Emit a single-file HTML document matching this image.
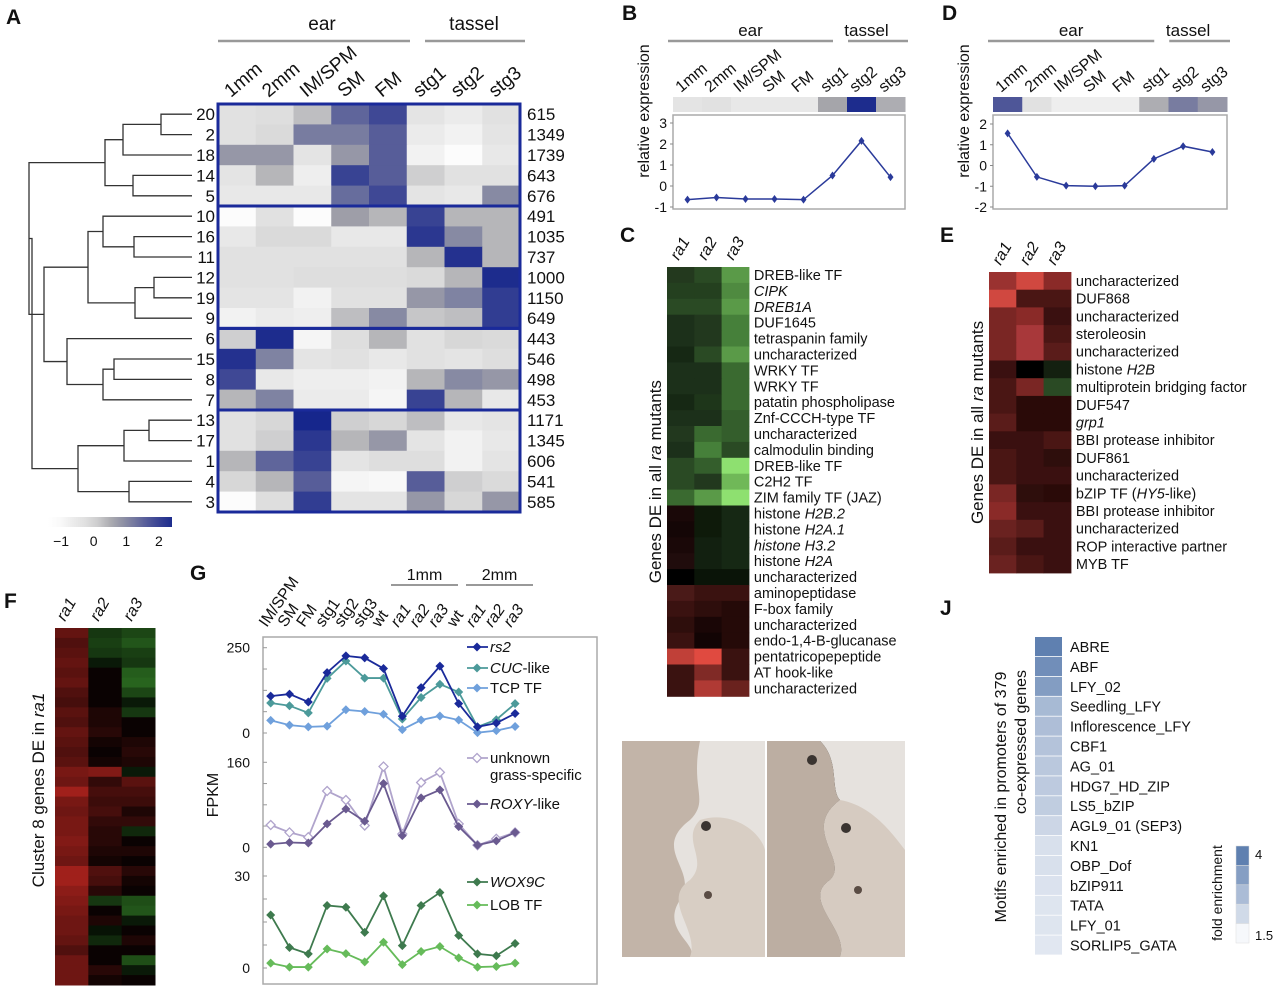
<!DOCTYPE html>
<html><head><meta charset="utf-8">
<style>
body{margin:0;background:#fff;}
svg{display:block;font-family:"Liberation Sans","DejaVu Sans",sans-serif;}
text{fill:#111;}
.pl{font-size:21px;font-weight:bold;}
</style></head>
<body>
<svg id="fig" width="1280" height="991" viewBox="0 0 1280 991" xmlns="http://www.w3.org/2000/svg">
<rect width="1280" height="991" fill="#fff"/>
<text class="pl" x="6" y="24">A</text>
<text class="pl" x="622" y="20">B</text>
<text class="pl" x="620" y="242">C</text>
<text class="pl" x="942" y="20">D</text>
<text class="pl" x="940" y="242">E</text>
<text class="pl" x="4" y="608">F</text>
<text class="pl" x="190" y="580">G</text>
<text class="pl" x="630" y="760">H</text>
<text class="pl" x="775" y="760">I</text>
<text class="pl" x="940" y="615">J</text>

<g font-size="19">
<text x="322" y="30" text-anchor="middle">ear</text>
<line x1="218" y1="41" x2="410" y2="41" stroke="#999" stroke-width="2.5"/>
<text x="474" y="30" text-anchor="middle">tassel</text>
<line x1="425" y1="41" x2="525" y2="41" stroke="#999" stroke-width="2.5"/>
</g>
<g id="gA"></g>
<g id="gB"></g>
<g id="gD"></g>
<g id="gC"></g>
<g id="gE"></g>
<g id="gF"></g>
<g id="gG"></g>
<g id="gJ"></g>

<g>
<rect x="622" y="741" width="143" height="216" fill="#e6e2de"/>
<path d="M622,741 L700,741 C690,790 710,800 690,820 C650,850 700,870 680,900 C660,930 700,945 690,957 L622,957 Z" fill="#c2b4a8"/>
<path d="M700,820 C730,810 760,830 765,850 L765,957 L690,957 C700,930 660,900 690,880 C710,860 680,840 700,820Z" fill="#d8cec4"/>
<circle cx="706" cy="826" r="5" fill="#3a3430"/>
<circle cx="708" cy="895" r="4" fill="#5a4c44"/>
</g>
<g>
<rect x="767" y="741" width="138" height="216" fill="#e6e2de"/>
<path d="M767,741 L820,741 C840,760 830,790 840,800 C800,830 850,860 830,880 C800,900 850,930 840,957 L767,957 Z" fill="#bcae a2"/>
<path d="M767,741 L820,741 C840,760 830,790 840,800 C800,830 850,860 830,880 C800,900 850,930 840,957 L767,957 Z" fill="#bcaea2"/>
<path d="M840,800 C870,805 890,830 905,850 L905,957 L840,957 C850,930 800,900 830,880 C850,860 800,830 840,800Z" fill="#d6cbc1"/>
<circle cx="812" cy="760" r="5" fill="#3a3430"/>
<circle cx="846" cy="828" r="5" fill="#3a3430"/>
<circle cx="858" cy="890" r="4" fill="#5a4c44"/>
</g>
</svg>
<script>
const NS='http://www.w3.org/2000/svg';
function mk(tag,attrs,parent){const e=document.createElementNS(NS,tag);for(const k in attrs)e.setAttribute(k,attrs[k]);parent.appendChild(e);return e;}
function txt(s,attrs,parent){const e=mk('text',attrs,parent);e.textContent=s;return e;}

const aCols=['1mm','2mm','IM/SPM','SM','FM','stg1','stg2','stg3'];
const aRowIds=['20','2','18','14','5','10','16','11','12','19','9','6','15','8','7','13','17','1','4','3'];
const aCounts=['615','1349','1739','643','676','491','1035','737','1000','1150','649','443','546','498','453','1171','1345','606','541','585'];
const aValues=[
[-0.3,-0.2,0.3,1.5,1.9,-0.4,-0.6,-0.3],
[-0.3,-0.1,1.2,1.2,1.6,-0.6,-0.8,-0.4],
[0.8,0.8,-0.4,0.8,1.6,-0.8,-1.1,-0.5],
[-0.4,0.4,-0.7,2.0,1.6,0.1,-0.3,-0.3],
[-0.5,-0.5,-0.5,1.4,1.9,-0.4,-0.5,1.0],
[-1.1,-0.3,-1.1,0.7,0.4,2.0,0.4,0.4],
[-0.5,-0.1,-0.1,-0.5,-0.5,2.2,1.0,0.4],
[-0.3,-0.3,-0.3,-0.3,-0.3,0.4,2.3,0.4],
[-0.3,-0.3,-0.2,-0.2,-0.2,-0.1,0.4,2.4],
[-0.4,-0.4,-0.8,-0.3,-0.3,0.8,1.1,2.1],
[-0.8,-0.6,-0.7,0.3,1.0,0.2,0.3,2.1],
[0.1,2.4,-0.9,-0.2,0.4,-0.3,0.0,-0.1],
[2.3,1.1,-0.4,-0.3,-0.5,-0.3,-0.4,-0.2],
[1.9,-0.5,-0.7,-0.7,-0.8,0.4,1.0,0.8],
[0.4,1.1,-0.6,-0.6,-0.9,2.0,0.4,-0.5],
[-0.3,0.0,2.5,0.1,0.0,0.3,-0.5,-0.4],
[-0.3,0.1,2.2,0.4,0.8,-0.4,-0.8,-0.5],
[0.4,1.5,2.0,-0.4,-0.2,-0.2,-0.8,-0.4],
[0.0,0.4,1.6,-0.9,-1.0,1.6,0.1,-0.1],
[-1.1,-0.2,2.1,-0.4,-0.4,0.8,0.0,0.8]];
const aGroupBreaks=[5,11,15];
const aColorTicks=[-1,0,1,2];
const aMerges=[[0,1,161],[20,2,123],[3,4,133],[21,22,105],[6,7,134],[5,24,103],[8,9,154],[26,10,135],[25,27,88],[12,13,114],[29,14,103],[11,30,67],[28,31,44],[23,32,29],[15,16,149],[34,17,124],[18,19,129],[35,36,78],[33,37,32]];

function grayBlue(v){
  const stops=[[-1.2,[255,255,255]],[0,[215,215,215]],[0.6,[165,165,170]],[1.2,[120,124,160]],[1.8,[70,78,150]],[2.5,[22,38,140]]];
  if(v<=stops[0][0])return 'rgb(255,255,255)';
  for(let i=1;i<stops.length;i++){if(v<=stops[i][0]){const a=stops[i-1],b=stops[i];const t=(v-a[0])/(b[0]-a[0]);return 'rgb('+a[1].map((c,j)=>Math.round(c+(b[1][j]-c)*t)).join(',')+')';}}
  return 'rgb(22,38,140)';
}
(function(){
  const g=document.getElementById('gA');
  const x0=218,x1=520,y0=104,y1=512;
  const cw=(x1-x0)/aCols.length, rh=(y1-y0)/aRowIds.length;
  const xS=i=>x0+i*cw, yS=i=>y0+i*rh;
  aValues.forEach((row,r)=>row.forEach((v,c)=>{
    const e=mk('rect',{x:xS(c),y:yS(r),width:cw+0.5,height:rh+0.5,fill:grayBlue(v)},g);
    
    
  }));
  const bounds=[0].concat(aGroupBreaks,[aRowIds.length]);
  for(let k=0;k<bounds.length-1;k++){
    const e=mk('rect',{x:x0,y:yS(bounds[k]),width:x1-x0,height:yS(bounds[k+1])-yS(bounds[k]),fill:'none',stroke:'#1a2a9a','stroke-width':3},g);
    
    
  }
  aCols.forEach((c,i)=>{
    const cx=xS(i)+cw/2-6, cy=98;
    const e=txt(c,{x:cx,y:cy,'font-size':19,transform:'rotate(-40 '+cx+' '+cy+')'},g);
    
    
  });
  aRowIds.forEach((id,r)=>{
    const e=txt(id,{x:215,y:yS(r)+rh/2+6,'font-size':17,'text-anchor':'end'},g);
    
    
    const f=txt(aCounts[r],{x:527,y:yS(r)+rh/2+6,'font-size':17},g);
    
    
  });
  const nodes=aRowIds.map((_,r)=>({x:192,y:yS(r)+rh/2}));
  aMerges.forEach(m=>{
    const a=nodes[m[0]],b=nodes[m[1]],hx=m[2];
    const p=mk('path',{d:'M'+a.x+','+a.y+' H'+hx+' V'+b.y+' H'+b.x,fill:'none',stroke:'#333','stroke-width':1.3},g);
    
    
    nodes.push({x:hx,y:(a.y+b.y)/2});
  });
  const defs=mk('defs',{},g);
  const lg=mk('linearGradient',{id:'cbA',x1:0,x2:1,y1:0,y2:0},defs);
  for(let i=0;i<=10;i++){const v=-1.4+i*0.38;mk('stop',{offset:(i*10)+'%','stop-color':grayBlue(v)},lg);}
  const cb=mk('rect',{x:48,y:517,width:124,height:10,fill:'url(#cbA)'},g);
  
  
  const cbx=v=>48+(v+1.4)/3.8*124;
  aColorTicks.forEach(t=>{
    const e=txt(t<0?'\u22121':String(t),{x:cbx(t),y:546,'font-size':14,'text-anchor':'middle'},g);
    
    
  });
})();

const bValues=[-0.65,-0.55,-0.62,-0.62,-0.65,0.5,2.15,0.42];
const bStrip=[-0.4,-0.3,-0.5,-0.5,-0.5,0.6,2.4,0.5];
const bTicks=[3,2,1,0,-1];
const dValues=[1.55,-0.55,-0.97,-1.0,-0.97,0.32,0.93,0.65];
const dStrip=[1.7,-0.3,-0.7,-0.7,-0.7,0.5,1.2,0.8];
const dTicks=[2,1,0,-1,-2];
function profile(gid,x0,x1,vals,strip,ticks,yTop,yBot){
  const g=document.getElementById(gid);
  const cw=(x1-x0)/vals.length;
  const xS=i=>x0+cw*(i+0.5);
  const tmax=ticks[0],tmin=ticks[ticks.length-1];
  const yS=v=>yBot+(v-tmin)/(tmax-tmin)*(yTop-yBot);
  let e=txt('ear',{x:x0+cw*2.5+5,y:36,'font-size':17,'text-anchor':'middle'},g);
  
  
  mk('line',{x1:x0-5,y1:41,x2:x0+cw*5+15,y2:41,stroke:'#999','stroke-width':2.5},g);
  e=txt('tassel',{x:x0+cw*6.5+5,y:36,'font-size':17,'text-anchor':'middle'},g);
  
  
  mk('line',{x1:x0+cw*5+30,y1:41,x2:x1+3,y2:41,stroke:'#999','stroke-width':2.5},g);
  aCols.forEach((c,i)=>{
    const cx=x0+cw*i+8, cy=93;
    const t=txt(c,{x:cx,y:cy,'font-size':16,transform:'rotate(-40 '+cx+' '+cy+')'},g);
    
    
  });
  strip.forEach((v,i)=>{
    const r=mk('rect',{x:x0+cw*i,y:97,width:cw+0.5,height:15,fill:grayBlue(v)},g);
    
    
  });
  const box=mk('rect',{x:x0,y:115,width:x1-x0,height:yBot+2-115,fill:'none',stroke:'#aaa','stroke-width':1.5},g);
  
  
  ticks.forEach(t=>{
    const l=txt(t<0?'-'+(-t):String(t),{x:x0-6,y:yS(t)+5,'font-size':14,'text-anchor':'end'},g);
    
    
    mk('line',{x1:x0-3,y1:yS(t),x2:x0,y2:yS(t),stroke:'#888'},g);
  });
  const yc=(115+yBot)/2-50;
  const yt=txt('relative expression',{x:x0-24,y:yc,'font-size':16,'text-anchor':'middle',transform:'rotate(-90 '+(x0-24)+' '+yc+')'},g);
  
  
  const pts=vals.map((v,i)=>xS(i)+','+yS(v)).join(' ');
  const pl=mk('polyline',{points:pts,fill:'none',stroke:'#2a3a9a','stroke-width':1.5},g);
  
  
  vals.forEach((v,i)=>{
    const x=xS(i),y=yS(v);
    const p=mk('path',{d:'M'+x+','+(y-4)+' L'+(x+3)+','+y+' L'+x+','+(y+4)+' L'+(x-3)+','+y+'Z',fill:'#2a3a9a'},g);
    
    
  });
}
profile('gB',673,905,bValues,bStrip,bTicks,123,207);
profile('gD',993,1227,dValues,dStrip,dTicks,124,207);

const cGenes=['DREB-like TF','CIPK','DREB1A','DUF1645','tetraspanin family','uncharacterized','WRKY TF','WRKY TF','patatin phospholipase','Znf-CCCH-type TF','uncharacterized','calmodulin binding','DREB-like TF','C2H2 TF','ZIM family TF (JAZ)','histone H2B.2','histone H2A.1','histone H3.2','histone H2A','uncharacterized','aminopeptidase','F-box family','uncharacterized','endo-1,4-B-glucanase','pentatricopepeptide','AT hook-like','uncharacterized'];
const cColors=[
['#23391e','#2a4a24','#5a9a48'],['#24401f','#24401f','#4f8a40'],['#2a4a24','#2a4a24','#5a9a48'],['#1c301a','#22381e','#46803a'],['#1c301a','#22381e','#46803a'],['#162814','#2a4a24','#5a9a48'],['#1c301a','#1c301a','#3a6a30'],['#1c301a','#1c301a','#3a6a30'],['#162814','#1e361a','#3a6a30'],['#1c301a','#1c301a','#345e2c'],['#22381e','#3a6a30','#345e2c'],['#1c301a','#46803a','#2a4a24'],['#2a4a24','#345e2c','#8ee070'],['#2a4a24','#22381e','#70b858'],['#3a6a30','#5a9a48','#8ee070'],
['#1a0808','#0e1a0a','#162814'],['#140606','#0e1a0a','#162814'],['#1a0808','#122010','#162814'],['#200c0c','#122010','#162814'],['#000000','#0a1408','#0a1408'],['#4a1a18','#3a1210','#3a1210'],['#3a1210','#2e0e0c','#250a08'],['#2e0e0c','#1a0606','#250a08'],['#3a1210','#120404','#250a08'],['#c04038','#e04a40','#3a1210'],['#3a1210','#802a26','#3a1210'],['#3a1210','#b03a34','#6a221e']];
const eGenes=['uncharacterized','DUF868','uncharacterized','steroleosin','uncharacterized','histone H2B','multiprotein bridging factor','DUF547','grp1','BBI protease inhibitor','DUF861','uncharacterized','bZIP TF (HY5-like)','BBI protease inhibitor','uncharacterized','ROP interactive partner','MYB TF'];
const eColors=[
['#9a3230','#d04840','#8a2a28'],['#d04840','#4a1614','#4a1614'],['#7a2624','#8a2a28','#3a1010'],['#7a2624','#a8383a','#4a1614'],['#7a2624','#a8383a','#5a1c1a'],['#3a1010','#000000','#142010'],['#4a1614','#7a2624','#2a4a24'],['#4a1614','#2a0a08','#2a0a08'],['#5a1c1a','#2a0a08','#2a0a08'],['#3a1010','#3a1010','#4a1614'],['#4a1614','#3a1010','#2e0e0c'],['#4a1614','#3a1010','#3a1010'],['#7a2624','#2e0e0c','#2a0a08'],['#8a2a28','#3a1010','#3a1010'],['#6a2220','#5a1c1a','#3a1010'],['#5a1c1a','#3a1010','#3a1010'],['#6a2220','#4a1614','#3a1010']];
const mutants=['ra1','ra2','ra3'];
const italicPart={'CIPK':1,'DREB1A':1,'histone H3.2':1,'grp1':1};
function geneHeat(gid,x0,y0,cw,rh,genes,colors,titleX,fs){
  const g=document.getElementById(gid);
  colors.forEach((row,r)=>row.forEach((c,k)=>{
    const e=mk('rect',{x:x0+k*cw,y:y0+r*rh,width:cw+0.5,height:rh+0.5,fill:c},g);
    
    
  }));
  mutants.forEach((m,k)=>{
    const cx=x0+k*cw+cw/2-2, cy=y0-6;
    const t=txt(m,{x:cx,y:cy,'font-size':16,'font-style':'italic',transform:'rotate(-60 '+cx+' '+cy+')'},g);
    
    
  });
  genes.forEach((s,r)=>{
    const t=mk('text',{x:x0+3*cw+5,y:y0+r*rh+rh/2+5,'font-size':fs},g);
    
    
    const m=s.match(/^(histone |bZIP TF \()(H[\w.]+)(.*)$/);
    if(italicPart[s]){t.setAttribute('font-style','italic');t.textContent=s;}
    else if(m){t.textContent=m[1];const ts=mk('tspan',{'font-style':'italic'},t);ts.textContent=m[2];if(m[3]){const t2=mk('tspan',{},t);t2.textContent=m[3];}}
    else t.textContent=s;
  });
  const yc=y0+genes.length*rh/2;
  const tt=mk('text',{x:titleX,y:yc,'font-size':17,'text-anchor':'middle',transform:'rotate(-90 '+titleX+' '+yc+')'},g);
  
  
  tt.appendChild(document.createTextNode('Genes DE in all '));
  const it=mk('tspan',{'font-style':'italic'},tt);it.textContent='ra';
  tt.appendChild(document.createTextNode(' mutants'));
}
geneHeat('gC',667,267,27.3,15.9,cGenes,cColors,661,14.5);
geneHeat('gE',989,272,27.3,17.7,eGenes,eColors,983,14.5);

const fValues=[[.45,-.3,-.4],[.35,-.35,-.5],[.4,-.3,-.35],[.45,-.1,-.3],[.4,0,-.55],[.45,0,-.6],[.35,0,-.4],[.3,0,-.1],[.4,.1,-.3],[.35,.1,0],[.45,.15,0],[.4,.05,.1],[.35,0,.15],[.4,.05,.1],[.55,.6,-.1],[.5,.2,.4],[.75,.3,.3],[.55,.25,.25],[.5,.3,.1],[.55,.2,.2],[.55,.15,-.2],[.6,.15,0],[.55,.1,.1],[.5,.05,0],[.75,.35,.15],[.75,.3,.05],[.65,.15,0],[.6,-.3,-.45],[.55,0,-.5],[.5,.1,-.1],[.5,-.05,0],[.45,-.2,.1],[.35,0,0],[.5,0,-.45],[.5,.15,-.1],[.5,.05,0]];
function rg(v){if(v>=0){const r=Math.round(10+200*v);return 'rgb('+r+','+Math.round(r*0.2)+','+Math.round(r*0.17)+')';}const gg=Math.round(10+150*(-v));return 'rgb('+Math.round(gg*0.4)+','+gg+','+Math.round(gg*0.3)+')';}
(function(){
  const g=document.getElementById('gF');
  const x0=55,y0=628,w=100,h=357,cw=w/3,rh=h/fValues.length;
  fValues.forEach((row,r)=>row.forEach((v,k)=>{
    const e=mk('rect',{x:x0+k*cw,y:y0+r*rh,width:cw+0.5,height:rh+0.5,fill:rg(v)},g);
    
    
  }));
  mutants.forEach((m,k)=>{
    const cx=x0+k*cw+10, cy=622;
    const t=txt(m,{x:cx,y:cy,'font-size':16,'font-style':'italic',transform:'rotate(-60 '+cx+' '+cy+')'},g);
    
    
  });
  const tx=44,ty=790;
  const tt=mk('text',{x:tx,y:ty,'font-size':17,'text-anchor':'middle',transform:'rotate(-90 '+tx+' '+ty+')'},g);
  
  
  tt.appendChild(document.createTextNode('Cluster 8 genes DE in '));
  const it=mk('tspan',{'font-style':'italic'},tt);it.textContent='ra1';
})();

const gSamples=['IM/SPM','SM','FM','stg1','stg2','stg3','wt','ra1','ra2','ra3','wt','ra1','ra2','ra3'];
const rs2=[108,114,91,177,226,220,189,49,133,196,86,18,29,57];
const cucLike=[88,80,59,160,211,161,161,41,104,143,120,18,39,86];
const tcpTF=[37,23,18,20,68,63,55,10,38,50,38,1,7,19];
const unknownGrass=[42,28,19,106,89,41,152,25,122,141,44,4,16,28];
const roxyLike=[6,9,8,44,72,49,120,22,93,108,39,4,12,28];
const wox9c=[17.3,6.7,4.6,20.4,19.8,11.6,23.5,7.3,20.4,24.6,10.6,4.6,4.0,8.0];
const lobTF=[1.6,0.3,0.3,6.2,4.7,2.0,8.4,1.1,5.4,7.0,3.3,0.3,0.5,1.6];
const gTop={max:250,ticks:[0,250]},gMid={max:160,ticks:[0,160]},gBot={max:30,ticks:[0,30]};
(function(){
  const g=document.getElementById('gG');
  const x0=270.7,dx=18.8;
  const xS=i=>x0+i*dx;
  const box=mk('rect',{x:263,y:637,width:334,height:347,fill:'none',stroke:'#aaa','stroke-width':1.5},g);
  
  
  gSamples.forEach((s,i)=>{
    const cx=xS(i)-4, cy=628;
    const it=(s.startsWith('ra'));
    const t=txt(s,{x:cx,y:cy,'font-size':16,'font-style':it?'italic':'normal',transform:'rotate(-55 '+cx+' '+cy+')'},g);
    
    
  });
  [['1mm',391,458],['2mm',466,533]].forEach(a=>{
    const t=txt(a[0],{x:(a[1]+a[2])/2,y:580,'font-size':16,'text-anchor':'middle'},g);
    
    
    mk('line',{x1:a[1],y1:585,x2:a[2],y2:585,stroke:'#999','stroke-width':2},g);
  });
  const ft=txt('FPKM',{x:218,y:795,'font-size':16,'text-anchor':'middle',transform:'rotate(-90 218 795)'},g);
  
  
  function sub(ax,y0,y1,series){
    const yS=v=>y0-(v/ax.max)*(y0-y1);
    for(let k=0;k<=4;k++){const y=y0-(y0-y1)*k/4;mk('line',{x1:263,y1:y,x2:267,y2:y,stroke:'#999'},g);}
    ax.ticks.forEach(t=>{
      const l=txt(String(t),{x:250,y:yS(t)+5,'font-size':14,'text-anchor':'end'},g);
      
      
    });
    series.forEach(s=>{
      const pl=mk('polyline',{points:s.v.map((v,i)=>xS(i)+','+yS(v)).join(' '),fill:'none',stroke:s.c,'stroke-width':1.8},g);
      
      
      s.v.forEach((v,i)=>{
        const x=xS(i),y=yS(v);
        const p=mk('path',{d:'M'+x+','+(y-4.5)+' L'+(x+4.5)+','+y+' L'+x+','+(y+4.5)+' L'+(x-4.5)+','+y+'Z',fill:s.hollow?'#fff':s.c,stroke:s.c,'stroke-width':s.hollow?1.3:0},g);
        
        
      });
    });
  }
  sub(gTop,733,647.7,[{v:tcpTF,c:'#6fa0dc',name:'tcp-tf'},{v:cucLike,c:'#4c9a9a',name:'cuc-like'},{v:rs2,c:'#1a2a9a',name:'rs2'}]);
  sub(gMid,847.3,762.3,[{v:unknownGrass,c:'#b0a4cc',name:'unknown-grass-specific',hollow:true},{v:roxyLike,c:'#6a5a90',name:'roxy-like'}]);
  sub(gBot,968,876,[{v:lobTF,c:'#66bb5a',name:'lob-tf'},{v:wox9c,c:'#3e7a4e',name:'wox9c'}]);
  const leg=[['rs2','#1a2a9a',647,true,false],['CUC-like','#4c9a9a',668,'CUC',false],['TCP TF','#6fa0dc',688,false,false],['unknown','#b0a4cc',758,false,true],['ROXY-like','#6a5a90',804,'ROXY',false],['WOX9C','#3e7a4e',882,true,false],['LOB TF','#66bb5a',905,false,false]];
  leg.forEach(L=>{
    const y=L[2];
    mk('line',{x1:467,y1:y,x2:488,y2:y,stroke:L[1],'stroke-width':1.8},g);
    mk('path',{d:'M477,'+(y-4.5)+' L481.5,'+y+' L477,'+(y+4.5)+' L472.5,'+y+'Z',fill:L[4]?'#fff':L[1],stroke:L[1],'stroke-width':L[4]?1.3:0},g);
    const t=mk('text',{x:490,y:y+5,'font-size':15},g);
    
    
    if(L[3]===true){t.setAttribute('font-style','italic');t.textContent=L[0];}
    else if(typeof L[3]==='string'){const a=mk('tspan',{'font-style':'italic'},t);a.textContent=L[3];t.appendChild(document.createTextNode(L[0].slice(L[3].length)));}
    else t.textContent=L[0];
  });
  const gs=txt('grass-specific',{x:490,y:780,'font-size':15},g);
  
  
})();

const jMotifs=['ABRE','ABF','LFY_02','Seedling_LFY','Inflorescence_LFY','CBF1','AG_01','HDG7_HD_ZIP','LS5_bZIP','AGL9_01 (SEP3)','KN1','OBP_Dof','bZIP911','TATA','LFY_01','SORLIP5_GATA'];
const jFold=[4.0,3.7,3.4,2.8,2.7,2.6,2.5,2.45,2.4,2.2,2.0,2.0,1.95,1.9,1.9,1.85];
const jLegendTicks=[4,1.5];
function blueScale(v){const t=Math.max(0,Math.min(1,(v-1.5)/2.5));const a=[246,248,251],b=[95,128,176];return 'rgb('+a.map((c,i)=>Math.round(c+(b[i]-c)*t)).join(',')+')';}
(function(){
  const g=document.getElementById('gJ');
  const x0=1035,y0=637,w=27,rh=19.9;
  jMotifs.forEach((m,i)=>{
    const r=mk('rect',{x:x0,y:y0+i*rh,width:w,height:rh-0.8,fill:blueScale(jFold[i])},g);
    
    
    const t=txt(m,{x:1070,y:y0+i*rh+rh/2+5,'font-size':14.5},g);
    
    
  });
  let t=txt('Motifs enriched in promoters of 379',{x:1006,y:797,'font-size':16,'text-anchor':'middle',transform:'rotate(-90 1006 797)'},g);
  
  
  t=txt('co-expressed genes',{x:1026,y:742,'font-size':16,'text-anchor':'middle',transform:'rotate(-90 1026 742)'},g);
  
  
  const ly0=846,ly1=943,n=5;
  for(let k=0;k<n;k++){
    const v=4-(4-1.5)*k/(n-1);
    const r=mk('rect',{x:1236,y:ly0+(ly1-ly0)*k/n,width:13,height:(ly1-ly0)/n,fill:blueScale(v),stroke:'#ddd','stroke-width':0.5},g);
    
    
  }
  const lyS=v=>ly0+8+(4-v)/2.5*(ly1-ly0-16);
  jLegendTicks.forEach(v=>{
    const l=txt(String(v),{x:1255,y:lyS(v)+5,'font-size':13},g);
    
    
  });
  t=txt('fold enrichment',{x:1222,y:893,'font-size':14,'text-anchor':'middle',transform:'rotate(-90 1222 893)'},g);
  
  
})();
</script>
</body></html>
